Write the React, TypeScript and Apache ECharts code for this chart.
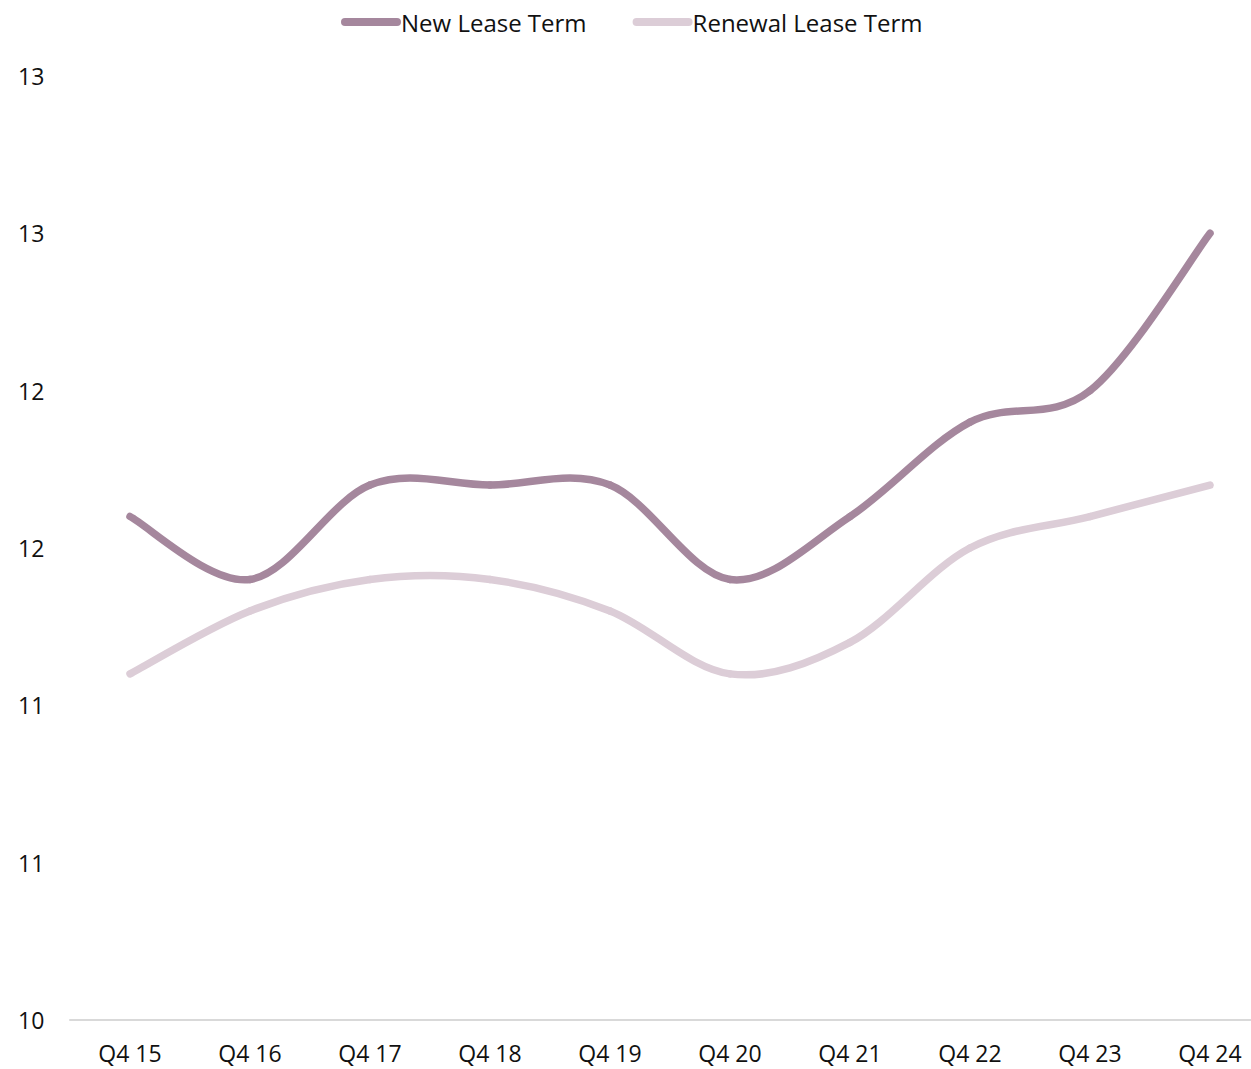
import React, { useEffect, useRef } from "react";
import * as echarts from "echarts";

const categories = ["Q4 15", "Q4 16", "Q4 17", "Q4 18", "Q4 19", "Q4 20", "Q4 21", "Q4 22", "Q4 23", "Q4 24"];
const newLeaseTerm = [11.6, 11.4, 11.7, 11.7, 11.7, 11.4, 11.6, 11.9, 12.0, 12.5];
const renewalLeaseTerm = [11.1, 11.3, 11.4, 11.4, 11.3, 11.1, 11.2, 11.5, 11.6, 11.7];
const seriesNames = ["New Lease Term", "Renewal Lease Term"];
const seriesColors = ["#a5879d", "#dccdd7"];

const FONT = "'Open Sans', 'Noto Sans', sans-serif";
const capsule = "path://M4,0 L56,0 A4,4 0 0 1 56,8 L4,8 A4,4 0 0 1 4,0 Z";

function smoothSeries(name: string, values: number[], color: string, z: number) {
  return {
    name,
    type: "custom",
    z,
    itemStyle: { color },
    data: values.map((v, i) => [i, v]),
    encode: { x: 0, y: 1 },
    renderItem: (params: any, api: any) => {
      const i = params.dataIndex;
      if (i >= values.length - 1) return null;
      const pt = (k: number) => {
        const kk = Math.max(0, Math.min(values.length - 1, k));
        return api.coord([kk, values[kk]]);
      };
      const p0 = pt(i - 1);
      const p1 = pt(i);
      const p2 = pt(i + 1);
      const p3 = pt(i + 2);
      const t = 1 / 6;
      return {
        type: "bezierCurve",
        shape: {
          x1: p1[0],
          y1: p1[1],
          x2: p2[0],
          y2: p2[1],
          cpx1: p1[0] + (p2[0] - p0[0]) * t,
          cpy1: p1[1] + (p2[1] - p0[1]) * t,
          cpx2: p2[0] - (p3[0] - p1[0]) * t,
          cpy2: p2[1] - (p3[1] - p1[1]) * t,
        },
        style: { stroke: color, lineWidth: 7.5, fill: "none", lineCap: "round", lineJoin: "round" },
      };
    },
  };
}

export default function App() {
  const ref = useRef<HTMLDivElement>(null);
  useEffect(() => {
    if (!ref.current) return;
    const chart = echarts.init(ref.current, null, { renderer: "svg" });
    chart.setOption({
      animation: false,
      backgroundColor: "#ffffff",
      textStyle: { fontFamily: FONT },
      legend: {
        top: 5,
        left: 336,
        itemWidth: 62,
        itemHeight: 8,
        itemGap: 46,
        icon: capsule,
        textStyle: { fontSize: 24, color: "#111", fontFamily: FONT, padding: [0, 0, 0, -6] },
        data: seriesNames,
      },
      grid: { left: 70, right: -19, top: 76, bottom: 49, outerBoundsMode: "none" },
      xAxis: {
        type: "category",
        data: categories,
        boundaryGap: true,
        axisLine: { show: true, lineStyle: { color: "#d9d9d9", width: 2 } },
        axisTick: { show: false },
        axisLabel: { fontSize: 23, color: "#111", margin: 21, fontFamily: FONT },
        splitLine: { show: false },
      },
      yAxis: {
        type: "value",
        min: 10,
        max: 13,
        interval: 0.5,
        axisLine: { show: false },
        axisTick: { show: false },
        splitLine: { show: false },
        axisLabel: {
          fontSize: 23,
          color: "#111",
          align: "left",
          margin: 52,
          fontFamily: FONT,
          formatter: (v: number) => String(Math.round(v)),
        },
      },
      series: [
        smoothSeries(seriesNames[0], newLeaseTerm, seriesColors[0], 3),
        smoothSeries(seriesNames[1], renewalLeaseTerm, seriesColors[1], 2),
      ],
    });
    return () => chart.dispose();
  }, []);
  return (
    <div
      ref={ref}
      style={{ position: "absolute", left: 0, top: 0, width: 1251, height: 1069 }}
    />
  );
}
